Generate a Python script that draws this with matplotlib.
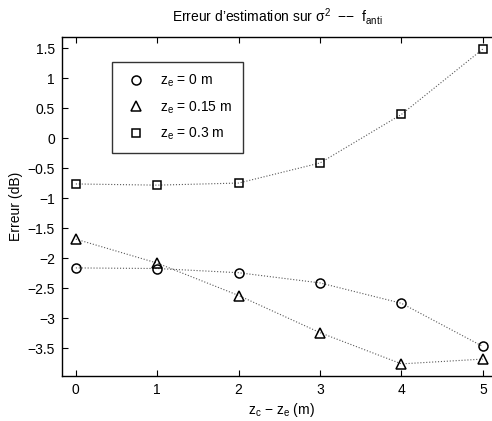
import matplotlib
matplotlib.use("Agg")
import matplotlib.pyplot as plt
import numpy as np

plt.rcParams['font.family'] = ['Liberation Sans', 'DejaVu Sans']
plt.rcParams['mathtext.fontset'] = 'custom'
plt.rcParams['mathtext.rm'] = 'Liberation Sans'
plt.rcParams['mathtext.it'] = 'Liberation Sans'

x = [0, 1, 2, 3, 4, 5]
err_ze_0 = [-2.16, -2.17, -2.24, -2.41, -2.75, -3.47]
err_ze_015 = [-1.68, -2.08, -2.62, -3.24, -3.76, -3.68]
err_ze_03 = [-0.76, -0.78, -0.745, -0.41, 0.40, 1.49]

labels = ["z$_\\mathregular{e}$ = 0 m", "z$_\\mathregular{e}$ = 0.15 m", "z$_\\mathregular{e}$ = 0.3 m"]
markers = ['o', '^', 's']
xticks = [0, 1, 2, 3, 4, 5]
yticks = [-3.5, -3, -2.5, -2, -1.5, -1, -0.5, 0, 0.5, 1, 1.5]

FS = 10
W, H = 492, 421
L, R, T, B = 62, 500, 37, 375.7
fig = plt.figure(figsize=(W / 100, H / 100), dpi=100)
ax = fig.add_axes([L / W, 1 - B / H, (R - L) / W, (B - T) / H])

for ys, m, lab in zip([err_ze_0, err_ze_015, err_ze_03], markers, labels):
    ax.plot(x, ys, linestyle=':', color='0.35', linewidth=0.8)
    ax.plot(x, ys, linestyle='none', marker=m, markersize=6.5 if m != 's' else 5.5,
            markerfacecolor='none', markeredgecolor='black', markeredgewidth=1.1, label=lab)

ax.set_xlim(-0.17, 5.21)
ax.set_ylim(-3.957, 1.69)
ax.set_xticks(xticks)
ax.set_xticklabels([str(t) for t in xticks])
ax.set_yticks(yticks)
ax.set_yticklabels([("\u2212" + f"{abs(t):g}") if t < 0 else f"{t:g}" for t in yticks])
ax.tick_params(direction='in', top=True, right=False, length=4, width=0.8, labelsize=FS, pad=5)
for s in ax.spines.values():
    s.set_linewidth(1.0)
ax.spines['right'].set_visible(False)

ax.set_xlabel("z$_\\mathregular{c}$ \u2212 z$_\\mathregular{e}$ (m)", fontsize=FS, labelpad=3)
ax.set_ylabel("Erreur (dB)", fontsize=FS, labelpad=3)
fig.text(277 / W, 1 - 22 / H,
         "Erreur d\u2019estimation sur \u03c3$^\\mathregular{2}$  \u2212\u2212  f$_\\mathregular{anti}$",
         fontsize=FS, ha='center', va='baseline')

leg = ax.legend(loc='upper left', bbox_to_anchor=((112 - L) / (R - L), 1 - (62 - T) / (B - T)),
                frameon=True, fancybox=False, edgecolor='black', fontsize=FS,
                handletextpad=0.7, borderpad=0.75, labelspacing=0.75, handlelength=2.0,
                borderaxespad=0)
leg.get_frame().set_linewidth(1.0)

fig.savefig("out.png", dpi=100)
